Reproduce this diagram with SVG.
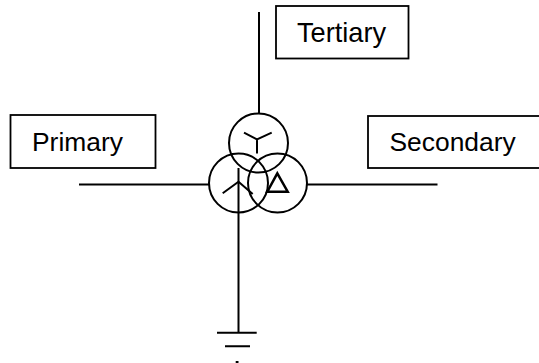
<svg xmlns="http://www.w3.org/2000/svg" width="539" height="363" viewBox="0 0 539 363">
<style>
.l{fill:none;stroke:#000;stroke-width:2}
.t{stroke-width:2.500}
.b{fill:#fff;stroke:#000;stroke-width:1.800}
text{font-family:"Liberation Sans",Arial,sans-serif;font-size:26.400px;fill:#000}
</style>
<rect width="539" height="363" fill="#fff"/>
<g id="connectors">
<path class="l" d="M79 184.500H209M307 184.500H437.500M259 12V114M238.500 168V333"/>
</g>
<g id="tertiary-winding">
<circle class="l" cx="258.500" cy="143" r="29.500"/>
<path class="l" d="M244 132.700L257 139.300L271.700 132.700M257 139.300V153.500"/>
</g>
<g id="primary-winding">
<circle class="l" cx="238.500" cy="183" r="29.500"/>
<path class="l" d="M222.700 193.300L238.500 181.700L252.700 194"/>
</g>
<g id="secondary-winding">
<circle class="l" cx="277.500" cy="183" r="29.500"/>
<path class="l t" d="M277.300 173.300L267.300 191.700H287.700Z"/>
</g>
<g id="ground">
<path class="l" d="M217 332.800H256.700M225 346.200H250M235.700 362H238.500"/>
</g>
<g id="primary-label">
<rect class="b" x="10.500" y="115" width="145" height="53"/>
<text x="32" y="150.700">Primary</text>
</g>
<g id="tertiary-label">
<rect class="b" x="276" y="6" width="132.500" height="52.500"/>
<text x="297" y="41.500" style="font-size:27.200px">Tertiary</text>
</g>
<g id="secondary-label">
<rect class="b" x="368" y="116" width="180" height="52"/>
<text x="389.500" y="150.500">Secondary</text>
</g>
</svg>
